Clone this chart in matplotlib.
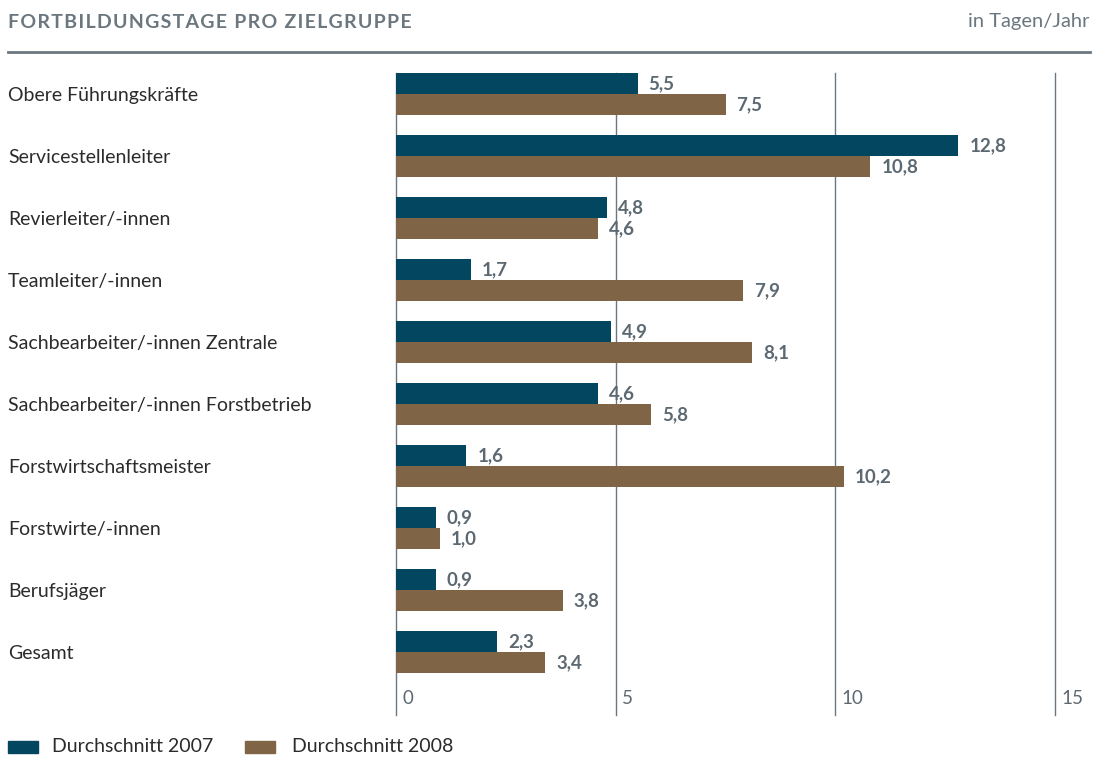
import numpy as np
import matplotlib
matplotlib.use("Agg")
import matplotlib.pyplot as plt
import matplotlib.transforms as mtransforms
from matplotlib.patches import Rectangle
from matplotlib.lines import Line2D

categories = [
    "Obere Führungskräfte",
    "Servicestellenleiter",
    "Revierleiter/-innen",
    "Teamleiter/-innen",
    "Sachbearbeiter/-innen Zentrale",
    "Sachbearbeiter/-innen Forstbetrieb",
    "Forstwirtschaftsmeister",
    "Forstwirte/-innen",
    "Berufsjäger",
    "Gesamt",
]
values_2007 = [5.5, 12.8, 4.8, 1.7, 4.9, 4.6, 1.6, 0.9, 0.9, 2.3]
values_2008 = [7.5, 10.8, 4.6, 7.9, 8.1, 5.8, 10.2, 1.0, 3.8, 3.4]
xticks = [0, 5, 10, 15]

c2007 = "#03465f"
c2008 = "#806446"
grey = "#6b777f"
txt = "#5d6972"

plt.rcParams["font.family"] = ["Lato", "DejaVu Sans"]

fig = plt.figure(figsize=(10.93, 7.71), dpi=100)
ax = fig.add_axes([396 / 1093, 56 / 771, 659 / 1093, 642 / 771])

y = np.arange(len(categories))
h = 0.34
ax.barh(y - h / 2, values_2007, height=h, color=c2007, zorder=3)
ax.barh(y + h / 2, values_2008, height=h, color=c2008, zorder=3)

for yi, v in zip(y, values_2007):
    ax.text(v + 0.25, yi - h / 2, f"{v:.1f}".replace(".", ","), va="center",
            ha="left", fontsize=13.5, color=txt, fontweight="bold", zorder=4)
for yi, v in zip(y, values_2008):
    ax.text(v + 0.25, yi + h / 2, f"{v:.1f}".replace(".", ","), va="center",
            ha="left", fontsize=13.5, color=txt, fontweight="bold", zorder=4)

ax.set_xlim(0, 15)
ax.set_ylim(10.02, -0.34)
for t in xticks:
    ax.axvline(t, color=grey, lw=1, zorder=1, clip_on=False)
    ax.text(t + 0.15, 9.85, str(t), ha="left", va="baseline", fontsize=13.5,
            color=txt, zorder=4)

ax.set_xticks([])
ax.set_yticks([])
for s in ax.spines.values():
    s.set_visible(False)

trans = mtransforms.blended_transform_factory(fig.transFigure, ax.transData)
for yi, name in zip(y, categories):
    fig.text(8 / 1093, yi + 0.03, name, transform=trans,
             ha="left", va="center", fontsize=14, color="#2b2b2b")

title = "\u200a".join("FORTBILDUNGSTAGE PRO ZIELGRUPPE")
fig.text(8 / 1093, 1 - 22 / 771, title, ha="left",
         va="center", fontsize=14, fontweight="bold", color=grey)
fig.text(1090 / 1093, 1 - 22 / 771, "in Tagen/Jahr", ha="right", va="center",
         fontsize=14.5, color=grey)
fig.add_artist(Line2D([8 / 1093, 1090 / 1093], [1 - 52 / 771, 1 - 52 / 771],
                      color=grey, lw=2, transform=fig.transFigure))

# legend
fig.add_artist(Rectangle((8 / 1093, 1 - 753 / 771), 30 / 1093, 12 / 771,
                         color=c2007, transform=fig.transFigure))
fig.text(52 / 1093, 1 - 747 / 771, "Durchschnitt 2007", ha="left", va="center",
         fontsize=14, color="#2b2b2b")
fig.add_artist(Rectangle((245 / 1093, 1 - 753 / 771), 30 / 1093, 12 / 771,
                         color=c2008, transform=fig.transFigure))
fig.text(292 / 1093, 1 - 747 / 771, "Durchschnitt 2008", ha="left", va="center",
         fontsize=14, color="#2b2b2b")

fig.savefig("out.png", dpi=100)
